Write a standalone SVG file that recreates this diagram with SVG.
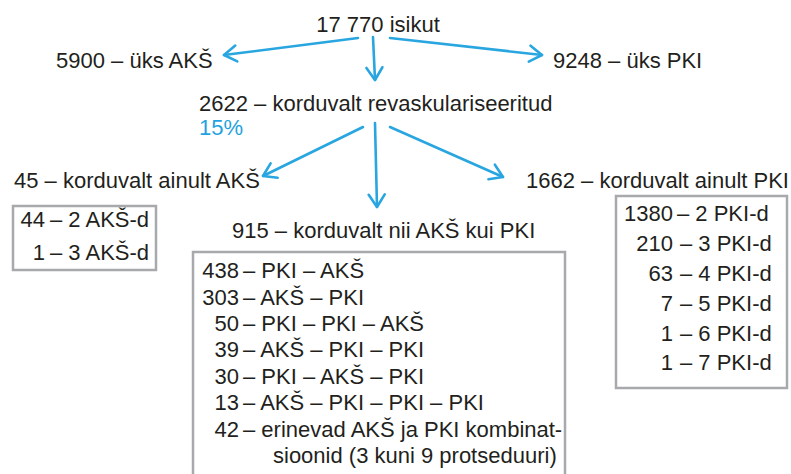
<svg xmlns="http://www.w3.org/2000/svg" width="791" height="474" viewBox="0 0 791 474">
<defs>
<marker id="ah" markerUnits="userSpaceOnUse" markerWidth="20" markerHeight="20" refX="15" refY="10" orient="auto" viewBox="0 0 20 20">
<path d="M2.6,2 L15,10 L2.6,18" fill="none" stroke="#29a6e0" stroke-width="2.6" stroke-linecap="round" stroke-linejoin="round"/>
</marker>
<style>
text{font-family:"Liberation Sans",Arial,sans-serif;font-size:22px;fill:#231f20}
.b{fill:#1fa3e0}
.box{fill:none;stroke:#a7a9ac;stroke-width:2.5}
.c{fill:none;stroke:#29a6e0;stroke-width:2.6;stroke-linecap:round;marker-end:url(#ah)}
.e{text-anchor:end}
</style>
</defs>
<rect width="791" height="474" fill="#fff"/>
<g id="connectors">
<line class="c" x1="358" y1="38" x2="224" y2="55"/>
<line class="c" x1="373" y1="37" x2="375" y2="80"/>
<line class="c" x1="390" y1="38" x2="542" y2="55"/>
<line class="c" x1="363" y1="127" x2="263" y2="176"/>
<line class="c" x1="375" y1="123" x2="377" y2="207"/>
<line class="c" x1="390" y1="127" x2="503" y2="177"/>
</g>
<g id="n-total"><text x="378" y="32" text-anchor="middle">17 770 isikut</text></g>
<g id="n-aks"><text x="56" y="68">5900 – üks AKŠ</text></g>
<g id="n-pki"><text x="553" y="68">9248 – üks PKI</text></g>
<g id="n-repeat"><text x="199" y="111">2622 – korduvalt revaskulariseeritud</text><text class="b" x="199" y="135">15%</text></g>
<g id="n-only-aks"><text x="14" y="188">45 – korduvalt ainult AKŠ</text>
<rect class="box" x="13" y="206" width="143" height="64"/>
<text class="e" x="45" y="227">44</text><text x="50" y="227">– 2 AKŠ-d</text>
<text class="e" x="45" y="260">1</text><text x="50" y="260">– 3 AKŠ-d</text>
</g>
<g id="n-both"><text x="232" y="238">915 – korduvalt nii AKŠ kui PKI</text>
<rect class="box" x="193" y="252" width="372" height="230"/>
<text class="e" x="239" y="278">438</text><text x="243" y="278">– PKI – AKŠ</text>
<text class="e" x="239" y="305">303</text><text x="243" y="305">– AKŠ – PKI</text>
<text class="e" x="239" y="331">50</text><text x="243" y="331">– PKI – PKI – AKŠ</text>
<text class="e" x="239" y="357">39</text><text x="243" y="357">– AKŠ – PKI – PKI</text>
<text class="e" x="239" y="384">30</text><text x="243" y="384">– PKI – AKŠ – PKI</text>
<text class="e" x="239" y="410">13</text><text x="243" y="410">– AKŠ – PKI – PKI – PKI</text>
<text class="e" x="239" y="437">42</text><text x="243" y="437">– erinevad AKŠ ja PKI kombinat-</text>
<text x="273" y="463">sioonid (3 kuni 9 protseduuri)</text>
</g>
<g id="n-only-pki"><text x="526" y="188">1662 – korduvalt ainult PKI</text>
<rect class="box" x="616" y="196" width="171" height="192"/>
<text class="e" x="673" y="221">1380</text><text x="677" y="221">– 2 PKI-d</text>
<text class="e" x="673" y="251">210</text><text x="680" y="251">– 3 PKI-d</text>
<text class="e" x="673" y="281">63</text><text x="680" y="281">– 4 PKI-d</text>
<text class="e" x="673" y="311">7</text><text x="680" y="311">– 5 PKI-d</text>
<text class="e" x="673" y="341">1</text><text x="680" y="341">– 6 PKI-d</text>
<text class="e" x="673" y="370">1</text><text x="680" y="370">– 7 PKI-d</text>
</g>
</svg>
